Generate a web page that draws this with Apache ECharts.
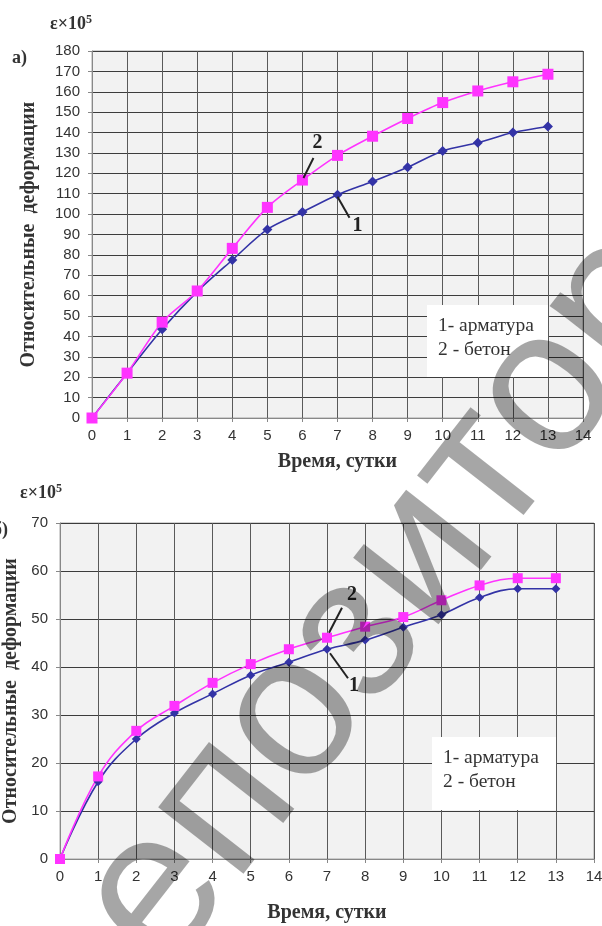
<!DOCTYPE html>
<html>
<head>
<meta charset="utf-8">
<script src="https://cdn.jsdelivr.net/npm/echarts@6/dist/echarts.min.js"></script>
<style>
html,body{margin:0;padding:0;background:#fff}
#chart{width:602px;height:926px}
</style>
</head>
<body>
<div id="chart"></div>
<script>
// сутки
var days = [0,1,2,3,4,5,6,7,8,9,10,11,12,13];
// а) деформации
var armA   = [0,22,43.5,62,77.5,92.5,101,109.5,116,123,131,135,140,143];
var betonA = [0,22,47,62.3,83.2,103.3,116.7,128.8,138.2,146.9,154.7,160.4,164.9,168.6];
// б) деформации
var armB   = [0,16.1,25,30.4,34.4,38.3,41,43.7,45.6,48.3,50.9,54.5,56.3,56.3];
var betonB = [0,17.2,26.7,31.9,36.7,40.6,43.7,46.1,48.4,50.4,53.9,57,58.5,58.5];

var legendLines = ['1- арматура', '2 - бетон'];
var xName = 'Время, сутки';
var yName = 'Относительные  деформации';
var watermark = 'репозиторий';

var serif = '"Liberation Serif", "DejaVu Serif", serif';
var sans = '"Liberation Sans", Arial, sans-serif';
var pink = '#ff33ff';
var blue = '#3333a6';

function pairs(xs, ys) {
    var out = [];
    for (var i = 0; i < xs.length; i++) out.push([xs[i], ys[i]]);
    return out;
}

function xAxisOf(idx, gap) {
    return {
        gridIndex: idx, type: 'value', min: 0, max: 14, interval: 1,
        name: xName, nameLocation: 'middle', nameGap: gap,
        nameTextStyle: {fontFamily: serif, fontWeight: 'bold', fontSize: 20, color: '#333'},
        axisLine: {show: true, lineStyle: {color: '#888', width: 1}},
        axisTick: {show: true, inside: false, length: 4, lineStyle: {color: '#888'}},
        axisLabel: {fontFamily: sans, fontSize: 15, color: '#333', margin: 10},
        splitLine: {show: true, lineStyle: {color: '#5a5a5a', width: 1}}
    };
}
function yAxisOf(idx, max, gap, margin) {
    return {
        gridIndex: idx, type: 'value', min: 0, max: max, interval: 10,
        name: yName, nameLocation: 'middle', nameRotate: 90, nameGap: gap,
        nameTextStyle: {fontFamily: serif, fontWeight: 'bold', fontSize: 20, color: '#333'},
        axisLine: {show: true, lineStyle: {color: '#888', width: 1}},
        axisTick: {show: true, inside: false, length: 4, lineStyle: {color: '#888'}},
        axisLabel: {fontFamily: sans, fontSize: 15, color: '#333', margin: margin},
        splitLine: {show: true, lineStyle: {color: '#3c3c3c', width: 1}}
    };
}
function seriesOf(name, idx, data, color, symbol, size, smooth) {
    return {
        name: name, type: 'line', xAxisIndex: idx, yAxisIndex: idx,
        data: data, smooth: smooth, symbol: symbol, symbolSize: size,
        showSymbol: true, animation: false,
        lineStyle: {color: color, width: 1.6},
        itemStyle: {color: color, borderWidth: 0}
    };
}

var myChart = echarts.init(document.getElementById('chart'), null, {renderer: 'canvas'});
var option = {
    animation: false,
    backgroundColor: '#fff',
    grid: [
        {left: 92, top: 51, width: 491, height: 367, outerBoundsMode: 'none', containLabel: false,
            show: true, backgroundColor: '#f2f2f2', borderColor: '#a6a6a6', borderWidth: 1},
        {left: 60, top: 523, width: 534, height: 336, outerBoundsMode: 'none', containLabel: false,
            show: true, backgroundColor: '#f2f2f2', borderColor: '#a6a6a6', borderWidth: 1}
    ],
    xAxis: [xAxisOf(0, 34), xAxisOf(1, 44)],
    yAxis: [yAxisOf(0, 180, 53, 12), yAxisOf(1, 70, 35, 12)],
    series: [
        seriesOf('арматура', 0, pairs(days, armA), blue, 'diamond', 10, 0.3),
        seriesOf('бетон', 0, pairs(days, betonA), pink, 'rect', 11, 0.3),
        seriesOf('арматура', 1, pairs(days, armB), blue, 'diamond', 9, 0.4),
        seriesOf('бетон', 1, pairs(days, betonB), pink, 'rect', 10, 0.4)
    ]
};
myChart.setOption(option);

// подписи, выноски, легенда
function px(grid, x, y) {
    return myChart.convertToPixel({gridIndex: grid}, [x, y]);
}
function callout(p, line, txt, dx, dy) {
    return [
        {type: 'line', z: 50, shape: {x1: p[0] + line[0], y1: p[1] + line[1], x2: p[0] + line[2], y2: p[1] + line[3]},
            style: {stroke: '#222', lineWidth: 2}},
        {type: 'text', z: 50, x: p[0] + dx, y: p[1] + dy,
            style: {text: txt, font: 'bold 20px ' + serif, fill: '#222', textAlign: 'center', textVerticalAlign: 'middle'}}
    ];
}
function legendBox(x, y, w, h) {
    return [
        {type: 'rect', z: 40, shape: {x: x, y: y, width: w, height: h}, style: {fill: '#fff'}},
        {type: 'text', z: 41, x: x + 11, y: y + 21, style: {text: legendLines[0], font: '19.5px ' + serif, fill: '#333', textVerticalAlign: 'middle'}},
        {type: 'text', z: 41, x: x + 11, y: y + 45, style: {text: legendLines[1], font: '19.5px ' + serif, fill: '#333', textVerticalAlign: 'middle'}}
    ];
}
function eps(x, y) {
    return {type: 'text', z: 40, x: x, y: y, style: {
        text: 'ε×10{sup|5}', font: 'bold 18px ' + serif, fill: '#333',
        rich: {sup: {fontFamily: serif, fontWeight: 'bold', fontSize: 12, verticalAlign: 'top', padding: [0, 0, 8, 0]}}
    }};
}

var graphics = [];
graphics = graphics.concat(callout(px(0, 6, betonA[6]), [11, -22, 1, -2], '2', 15, -37));
graphics = graphics.concat(callout(px(0, 7, armA[7]), [0, 2, 12, 23], '1', 20, 31));
graphics = graphics.concat(callout(px(1, 7, betonB[7]), [15, -30, 2, -5], '2', 25, -43));
graphics = graphics.concat(callout(px(1, 7, armB[7]), [3, 4, 21, 29], '1', 27, 37));
graphics = graphics.concat(legendBox(427, 305, 121, 72));
graphics = graphics.concat(legendBox(432, 737, 124, 73));
graphics.push(eps(50, 14));
graphics.push(eps(20, 483));
graphics.push({type: 'text', z: 40, x: 12, y: 49, style: {text: 'а)', font: 'bold 18px ' + serif, fill: '#333'}});
graphics.push({type: 'text', z: 40, x: -7, y: 521, style: {text: 'б)', font: 'bold 18px ' + serif, fill: '#333'}});
// водяной знак
graphics.push({type: 'text', z: 100, x: 50, y: 1030, rotation: 0.908, silent: true,
    style: {text: watermark, font: '205px ' + sans, fill: 'rgba(0,0,0,0.35)', textAlign: 'left', textVerticalAlign: 'middle'}});

myChart.setOption({graphic: graphics});
window.onresize = myChart.resize;
</script>
</body>
</html>
